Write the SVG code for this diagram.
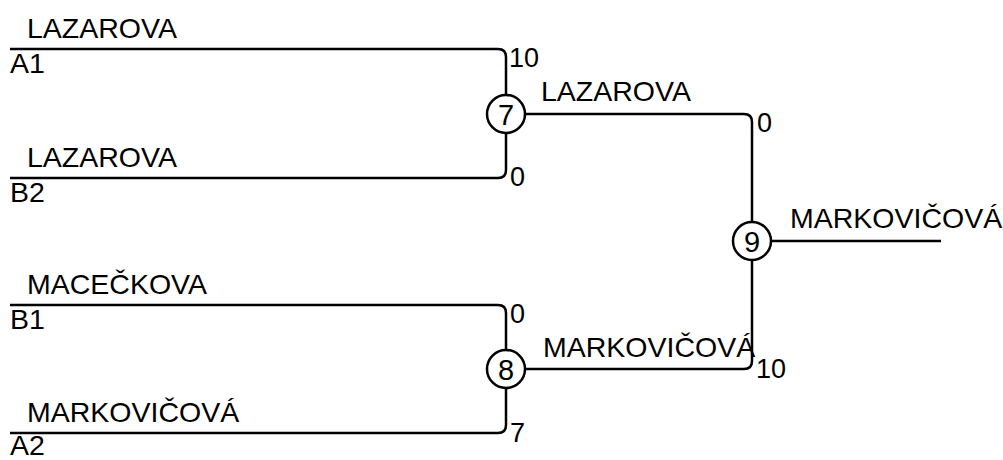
<svg xmlns="http://www.w3.org/2000/svg" width="1003" height="460" viewBox="0 0 1003 460">
<style>
.ln{fill:none;stroke:#000;stroke-width:2.5}
.c{fill:#fff;stroke:#000;stroke-width:2.5}
text{font-family:"Liberation Sans",Arial,sans-serif;font-size:28.5px;fill:#000}
.sc{font-size:27px}
.m{text-anchor:middle;font-size:29px}
</style>
<rect width="1003" height="460" fill="#fff"/>
<g id="connectors">
<path class="ln" d="M10,49 H498 Q506,49 506,57 V95"/>
<path class="ln" d="M10,178 H498 Q506,178 506,170 V133"/>
<path class="ln" d="M525,114 H744 Q752,114 752,122 V222"/>
<path class="ln" d="M10,305 H498 Q506,305 506,313 V350"/>
<path class="ln" d="M10,433 H498 Q506,433 506,425 V388"/>
<path class="ln" d="M525,369 H744 Q752,369 752,361 V260"/>
<path class="ln" d="M771,241 H941"/>
</g>
<g id="entry-A1"><text x="27" y="38">LAZAROVA</text><text x="10" y="73">A1</text><text class="sc" x="509" y="67">10</text></g>
<g id="entry-B2"><text x="27" y="167">LAZAROVA</text><text x="10" y="202">B2</text><text class="sc" x="510" y="186">0</text></g>
<g id="entry-B1"><text x="27" y="294">MACEČKOVA</text><text x="10" y="329">B1</text><text class="sc" x="510" y="323">0</text></g>
<g id="entry-A2"><text x="27" y="422">MARKOVIČOVÁ</text><text x="10" y="455">A2</text><text class="sc" x="510" y="442">7</text></g>
<g id="match-7"><circle class="c" cx="506" cy="114" r="19"/><text class="m" x="506" y="124.5">7</text><text x="541" y="101">LAZAROVA</text><text class="sc" x="757" y="132">0</text></g>
<g id="match-8"><circle class="c" cx="506" cy="369" r="19"/><text class="m" x="506" y="379.5">8</text><text x="543" y="357">MARKOVIČOVÁ</text><text class="sc" x="756" y="378">10</text></g>
<g id="match-9"><circle class="c" cx="752" cy="241" r="19"/><text class="m" x="752" y="251.5">9</text><text x="790" y="228">MARKOVIČOVÁ</text></g>
</svg>
